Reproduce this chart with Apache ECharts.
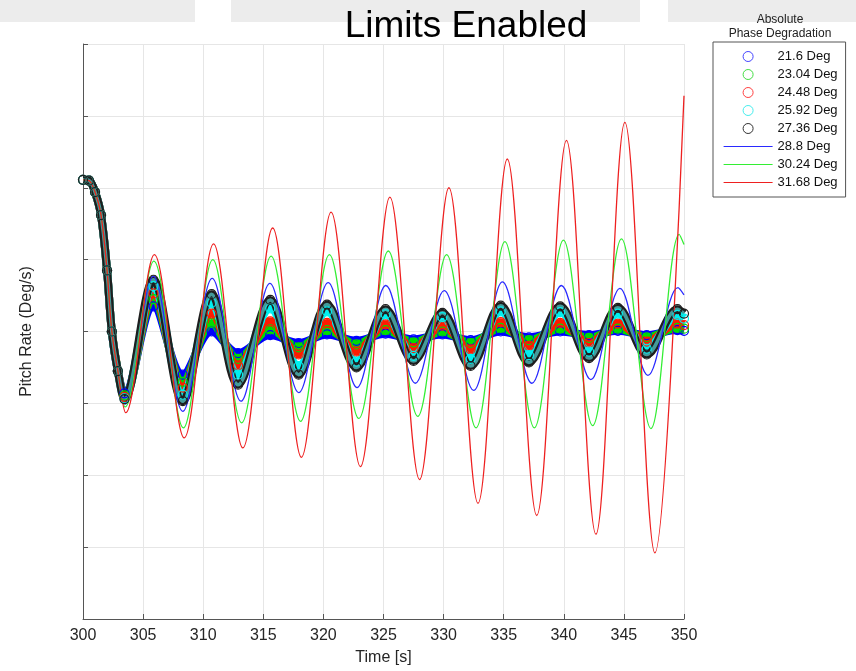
<!DOCTYPE html>
<html><head><meta charset="utf-8">
<script src="https://cdn.jsdelivr.net/npm/echarts@6/dist/echarts.min.js"></script>
<style>html,body{margin:0;padding:0;background:#fff}#c{width:856px;height:671px}</style>
</head><body><div id="c"></div>
<script>
const FONT = '"Liberation Sans", Arial, Helvetica, sans-serif';

// Legend / series names
const names = ['21.6 Deg', '23.04 Deg', '24.48 Deg', '25.92 Deg', '27.36 Deg', '28.8 Deg', '30.24 Deg', '31.68 Deg'];

// Shared initial transient (time [s], pitch rate)
const startT = [300, 300.5, 301.0, 301.5, 302.0, 302.4, 302.9];
const startV = [2.11, 2.10, 1.94, 1.62, 0.85, 0.0, -0.55];

// Marker series: times of peaks / troughs
const markerT = [303.45, 305.86, 308.3, 310.7, 312.9, 315.58, 317.94, 320.3, 322.75, 325.17, 327.5, 329.9, 332.25, 334.75, 337.1, 339.7, 342.1, 344.5, 346.9, 349.45, 350];
const m216  = [-0.86, 0.35, -0.60, 0.00, -0.30, -0.05, -0.16, -0.04, -0.13, -0.03, -0.11, -0.04, -0.12, 0.00, -0.08, 0.00, -0.05, 0.01, -0.05, 0.02, 0.01];
const m2304 = [-0.89, 0.45, -0.70, 0.12, -0.38, 0.03, -0.22, 0.02, -0.18, 0.02, -0.15, 0.00, -0.16, 0.05, -0.12, 0.04, -0.09, 0.04, -0.08, 0.05, 0.04];
const m2448 = [-0.91, 0.53, -0.78, 0.25, -0.47, 0.14, -0.32, 0.12, -0.28, 0.10, -0.23, 0.08, -0.25, 0.13, -0.20, 0.12, -0.16, 0.11, -0.14, 0.11, 0.09];
const m2592 = [-0.93, 0.63, -0.88, 0.40, -0.60, 0.32, -0.48, 0.28, -0.42, 0.24, -0.34, 0.20, -0.38, 0.28, -0.33, 0.27, -0.28, 0.25, -0.24, 0.23, 0.18];
const m2736 = [-0.94, 0.72, -0.97, 0.52, -0.74, 0.44, -0.60, 0.375, -0.50, 0.31, -0.41, 0.26, -0.48, 0.36, -0.43, 0.35, -0.37, 0.33, -0.32, 0.31, 0.25];

// Line series: peaks / troughs
const l288T = [303.5, 305.85, 308.3, 310.75, 313.15, 315.55, 317.95, 320.4, 322.8, 325.2, 327.65, 330.05, 332.5, 334.9, 337.35, 339.8, 342.25, 344.67, 347.0, 349.5, 350];
const l288V = [-1.01, 0.77, -1.11, 0.74, -0.97, 0.67, -0.85, 0.68, -0.78, 0.64, -0.72, 0.57, -0.82, 0.69, -0.72, 0.64, -0.67, 0.60, -0.61, 0.61, 0.51];
const l3024T = [303.5, 305.9, 308.35, 310.8, 313.2, 315.65, 318.1, 320.5, 322.95, 325.4, 327.85, 330.25, 332.7, 335.1, 337.55, 339.97, 342.4, 344.8, 347.25, 349.6, 350];
const l3024V = [-1.05, 0.98, -1.34, 1.0, -1.27, 1.05, -1.25, 1.07, -1.21, 1.12, -1.18, 1.07, -1.34, 1.25, -1.34, 1.27, -1.31, 1.29, -1.35, 1.35, 1.21];
const l3168T = [303.55, 305.94, 308.42, 310.86, 313.3, 315.78, 318.17, 320.64, 323.08, 325.53, 328.0, 330.44, 332.86, 335.3, 337.75, 340.22, 342.67, 345.08, 347.58, 350];
const l3168V = [-1.13, 1.07, -1.48, 1.22, -1.62, 1.44, -1.75, 1.66, -1.88, 1.87, -2.06, 2.0, -2.39, 2.40, -2.56, 2.66, -2.82, 2.91, -3.08, 3.28];

const xTicks = [300, 305, 310, 315, 320, 325, 330, 335, 340, 345, 350];

function pts(tA, vA, tB, vB) {
  return tA.map((t, i) => [t, vA[i]]).concat(tB.map((t, i) => [t, vB[i]]));
}

const markerColors = ['#0000ff', '#00dd00', '#ff1a00', '#00f0f0', '#1e1e1e'];
const legendMarkerColors = ['#4545ff', '#44dd44', '#ff4040', '#44eeee', '#333333'];
const lineColors = ['#2a2aff', '#33ee33', '#ee2020'];
const markerData = [m216, m2304, m2448, m2592, m2736];

const series = [];
markerData.forEach((vals, i) => {
  series.push({
    name: names[i], type: 'line', smooth: 0.35, clip: false,
    data: pts(startT, startV, markerT, vals),
    symbol: 'circle', symbolSize: 9, showSymbol: true, showAllSymbol: true,
    lineStyle: { color: markerColors[i], width: 8 },
    itemStyle: { color: 'rgba(0,0,0,0)', borderColor: markerColors[i], borderWidth: 1.2 },
    emphasis: { disabled: true }, animation: false
  });
});
// inner core of the black ring band
series.push({
  name: 'core', type: 'line', smooth: 0.35, clip: false,
  data: pts(startT, startV, markerT, m2736), symbol: 'none',
  lineStyle: { color: '#449a9a', width: 3.5 }, emphasis: { disabled: true }, animation: false
});
[[l288T, l288V], [l3024T, l3024V], [l3168T, l3168V]].forEach((p, i) => {
  series.push({
    name: names[5 + i], type: 'line', smooth: 0.35,
    data: pts(startT, startV, p[0], p[1]), symbol: 'none',
    lineStyle: { color: lineColors[i], width: 1.3 }, itemStyle: { color: lineColors[i] },
    emphasis: { disabled: true }, animation: false
  });
});

const legendData = names.map((n, i) => i < 5
  ? { name: n, icon: 'circle', itemStyle: { color: 'rgba(0,0,0,0)', borderColor: legendMarkerColors[i], borderWidth: 1 } }
  : { name: n, itemStyle: { opacity: 0 }, lineStyle: { width: 1.2 } });

const chart = echarts.init(document.getElementById('c'), null, { renderer: 'canvas' });
chart.setOption({
  animation: false,
  backgroundColor: '#fff',
  textStyle: { fontFamily: FONT },
  grid: { left: 83, right: 172, top: 44, bottom: 51, containLabel: false },
  graphic: [
    { type: 'rect', shape: { x: 0, y: 0, width: 195, height: 22 }, style: { fill: '#ececec' }, silent: true },
    { type: 'rect', shape: { x: 231, y: 0, width: 409, height: 22 }, style: { fill: '#ececec' }, silent: true },
    { type: 'rect', shape: { x: 668, y: 0, width: 188, height: 22 }, style: { fill: '#ececec' }, silent: true },
    { type: 'text', x: 466, y: 27, style: { text: 'Limits Enabled', font: '37px ' + FONT, fill: '#000', align: 'center', verticalAlign: 'middle' }, z: 10 },
    { type: 'text', x: 780, y: 20, style: { text: 'Absolute', font: '12px ' + FONT, fill: '#222', align: 'center', verticalAlign: 'middle' }, z: 10 },
    { type: 'text', x: 780, y: 34, style: { text: 'Phase Degradation', font: '12px ' + FONT, fill: '#222', align: 'center', verticalAlign: 'middle' }, z: 10 }
  ],
  legend: {
    orient: 'vertical', left: 713, top: 42, padding: [8, 8, 8, 10],
    itemWidth: 49, itemHeight: 10, itemGap: 5,
    borderColor: '#555', borderWidth: 1, backgroundColor: '#fff',
    textStyle: { fontSize: 13, color: '#111', fontFamily: FONT },
    selectedMode: false,
    data: legendData
  },
  xAxis: {
    type: 'value', min: xTicks[0], max: xTicks[xTicks.length - 1], interval: 5,
    name: 'Time [s]', nameLocation: 'middle', nameGap: 31,
    nameTextStyle: { fontSize: 16, color: '#262626', fontFamily: FONT },
    axisLine: { onZero: false, lineStyle: { color: '#555', width: 1 } },
    axisTick: { inside: true, length: 5, lineStyle: { color: '#555' } },
    axisLabel: { fontSize: 16, color: '#262626', margin: 9, fontFamily: FONT },
    splitLine: { show: true, lineStyle: { color: '#e6e6e6', width: 1 } }
  },
  yAxis: {
    type: 'value', min: -4, max: 4, interval: 1,
    name: 'Pitch Rate (Deg/s)', nameLocation: 'middle', nameGap: 48,
    nameTextStyle: { fontSize: 16, color: '#262626', fontFamily: FONT },
    axisLine: { show: true, onZero: false, lineStyle: { color: '#555', width: 1 } },
    axisTick: { show: true, inside: true, length: 5, lineStyle: { color: '#555' } },
    axisLabel: { show: false },
    splitLine: { show: true, lineStyle: { color: '#e6e6e6', width: 1 } }
  },
  series: series
});
</script></body></html>
